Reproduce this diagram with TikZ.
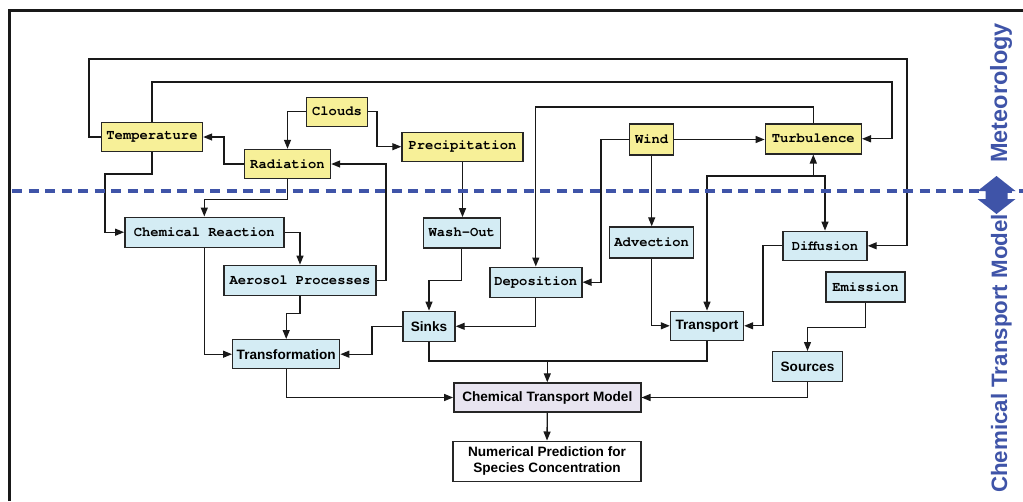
\documentclass[tikz,border=0pt]{standalone}
\usepackage{fontspec}
\setmainfont{Liberation Sans}
\setsansfont{Liberation Sans}
\setmonofont{texgyrecursor}[Extension=.otf,UprightFont=*-regular,BoldFont=*-bold]
\usetikzlibrary{arrows.meta}
\definecolor{metY}{RGB}{247,240,152}
\definecolor{ctmC}{RGB}{212,236,244}
\definecolor{ctmL}{RGB}{232,228,240}
\definecolor{bandB}{RGB}{63,84,168}
\begin{document}
\begin{tikzpicture}[x=1pt,y=-1pt,
  box/.style={draw=black!85,line width=1.4pt,inner sep=0pt,align=center,anchor=center},
  met/.style={box,fill=metY,font=\fontsize{13.8}{16}\selectfont\ttfamily\bfseries},
  chem/.style={box,fill=ctmC,font=\fontsize{13.8}{16}\selectfont\ttfamily\bfseries},
  chemb/.style={box,fill=ctmC,font=\fontsize{13.6}{16}\selectfont\sffamily\bfseries},
  wire/.style={line width=1.3pt,draw=black!90},
  arr/.style={wire,-{Triangle[length=9pt,width=7pt]}},
  bandtext/.style={rotate=90,anchor=base west,text=bandB,inner sep=0pt}
]
\useasboundingbox (0,0) rectangle (1023,501);
% frame
\draw[line width=3pt,black!90] (9,501) -- (9,10.5) -- (1023,10.5);

% meteorology nodes
\node[met,minimum width=101pt,minimum height=29pt] (temp) at (152,137) {Temperature};
\node[met,minimum width=86pt,minimum height=29pt] (rad) at (287.5,164) {Radiation};
\node[met,minimum width=61pt,minimum height=29pt] (clouds) at (337,111.7) {Clouds};
\node[met,minimum width=121pt,minimum height=29pt] (precip) at (462.5,146.7) {Precipitation};
\node[met,minimum width=44pt,minimum height=31pt] (wind) at (651.7,139.5) {Wind};
\node[met,minimum width=96pt,minimum height=30pt] (turb) at (813.3,138.8) {Turbulence};

% chemical transport model nodes
\node[chem,minimum width=159pt,minimum height=30pt] (chemr) at (204.3,232.2) {Chemical Reaction};
\node[chem,minimum width=152pt,minimum height=30pt] (aero) at (300,280.3) {Aerosol Processes};
\node[chemb,minimum width=107pt,minimum height=29pt] (transf) at (286.2,354.2) {Transformation};
\node[chem,minimum width=77pt,minimum height=30pt] (wash) at (461.8,232.8) {Wash-Out};
\node[chem,minimum width=92pt,minimum height=30pt] (depo) at (535.8,282.2) {Deposition};
\node[chemb,minimum width=52pt,minimum height=30pt] (sinks) at (429,326.3) {Sinks};
\node[chem,minimum width=84pt,minimum height=31pt] (adv) at (651.7,242.5) {Advection};
\node[chemb,minimum width=73pt,minimum height=29pt] (transp) at (707,325.8) {Transport};
\node[chem,minimum width=84pt,minimum height=29pt] (diff) at (825,245.8) {Diffusion};
\node[chem,minimum width=79pt,minimum height=30pt] (emis) at (865.5,287) {Emission};
\node[chemb,minimum width=70pt,minimum height=30pt] (src) at (807.5,366.7) {Sources};
\node[box,fill=ctmL,font=\fontsize{13.6}{16}\selectfont\sffamily\bfseries,minimum width=187pt,minimum height=29pt] (ctm) at (547.3,397.5) {Chemical Transport Model};
\node[box,fill=white,font=\fontsize{13.6}{16}\selectfont\sffamily\bfseries,minimum width=188pt,minimum height=40pt] (num) at (547,461.2) {Numerical Prediction for\\Species Concentration};

% connectors
\draw[arr] (temp.west) -| (89,59) -- (907,59) |- (diff.east);
\draw[arr] (temp.north) |- (892,82) |- (turb.east);
\draw[arr] (temp.south) |- (105,174) |- (chemr.west);
\draw[arr] (rad.west) -| (224,137) -- (temp.east);
\draw[arr] (clouds.west) -| (rad.north);
\draw[arr] (clouds.east) -| (377,146.7) -- (precip.west);
\draw[arr] (rad.south) -- ++(0,20) -| (chemr.north);
\draw[arr] (chemr.east) -| (aero.north);
\draw[arr] (aero.east) -| (386,164) -- (rad.east);
\draw[arr] (chemr.south) |- (transf.west);
\draw[arr] (aero.south) -- ++(0,17.5) -| (transf.north);
\draw[arr] (precip.south) -- (precip.south |- wash.north);
\draw[arr] (wash.south) -- ++(0,32) -| (sinks.north);
\draw[arr] (sinks.west) -| (372,354.2) -- (transf.east);
\draw[arr] (depo.south) |- (sinks.east);
\draw[arr] (wind.west) -| (601,282.2) -- (depo.east);
\draw[arr] (turb.north) -- ++(0,-16) -| (depo.north);
\draw[arr] (wind.east) -- (wind.east -| turb.west);
\draw[arr] (wind.south) -- (adv.north);
\draw[arr] (adv.south) |- (transp.west);
\coordinate (j1) at (813.3,176);
\draw[arr] (j1) -- (turb.south);
\draw[arr] (j1) -| (diff.north);
\draw[arr] (j1) -| (transp.north);
\draw[arr] (diff.west) -| (763,325.8) -- (transp.east);
\draw[arr] (emis.south) -- ++(0,24.7) -| (src.north);
\draw[arr] (src.south) |- (ctm.east);
\draw[arr] (transf.south) |- (ctm.west);
\coordinate (j2) at (547.3,361);
\draw[wire] (sinks.south) |- (j2) -| (transp.south);
\draw[arr] (j2) -- (ctm.north);
\draw[arr] (ctm.south) -- (num.north);

% separator
\draw[bandB,line width=4pt,dash pattern=on 10pt off 6.5pt] (12,191) -- (1023,191);
\fill[bandB] (996.5,176) -- (1015.5,191) -- (1007.5,191) -- (1007.5,199) -- (1015.5,199) -- (996.5,214) -- (977.5,199) -- (985.5,199) -- (985.5,191) -- (977.5,191) -- cycle;
\node[bandtext,font=\fontsize{23.5}{25}\selectfont\sffamily\bfseries] (lmet) at (1007,163) {Meteorology};
\node[bandtext,font=\fontsize{22.3}{25}\selectfont\sffamily\bfseries] (lctm) at (1007,493) {Chemical Transport Model};
\end{tikzpicture}
\end{document}
